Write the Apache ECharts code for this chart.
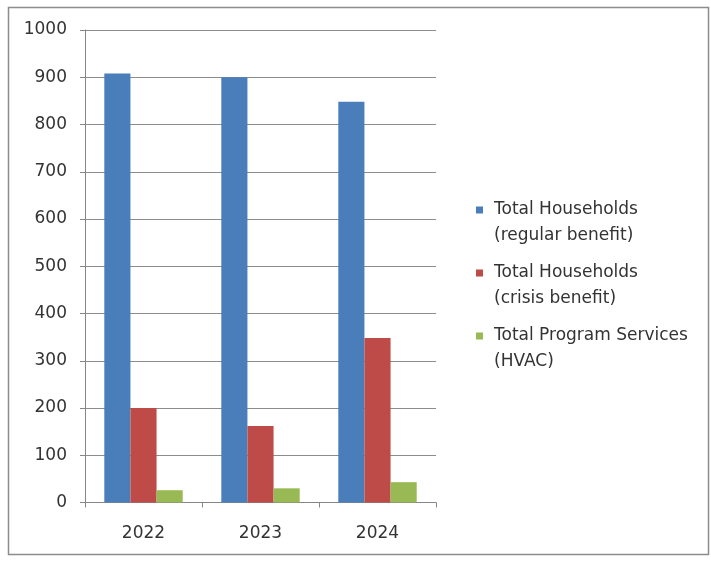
<!DOCTYPE html>
<html>
<head>
<meta charset="utf-8">
<script src="https://cdn.jsdelivr.net/npm/echarts@6/dist/echarts.min.js"></script>
<style>html,body{margin:0;padding:0;background:#fff}#c{width:711px;height:561px}</style>
</head>
<body>
<div id="c"></div>
<script>
const categories = ['2022', '2023', '2024'];
const seriesNames = ['Total Households\n(regular benefit)', 'Total Households\n(crisis benefit)', 'Total Program Services\n(HVAC)'];
const regularBenefit = [908, 900, 848];
const crisisBenefit = [200, 162, 348];
const hvacServices = [26, 30, 43];
const yTicks = [0, 100, 200, 300, 400, 500, 600, 700, 800, 900, 1000];

const colors = ['#4a7ebb', '#be4b48', '#98b954'];
const chart = echarts.init(document.getElementById('c'));
const values = [regularBenefit, crisisBenefit, hvacServices];
const icon = 'path://M0,0H7V7H0Z M13,33L13.01,33';
chart.setOption({
  animation: false,
  backgroundColor: '#ffffff',
  graphic: [{
    type: 'rect', z: -1,
    shape: { x: 8.5, y: 7.5, width: 700, height: 547 },
    style: { fill: 'none', stroke: '#8c8c8c', lineWidth: 1.5 }
  }],
  grid: { left: 85, right: 275, top: 30, bottom: 58.5 },
  legend: {
    orient: 'vertical', left: 471, top: 192,
    itemWidth: 13, itemHeight: 33, itemGap: 11,
    icon: icon,
    data: seriesNames,
    textStyle: { fontFamily: 'DejaVu Sans', fontSize: 17, color: '#333', lineHeight: 26 }
  },
  xAxis: {
    type: 'category', data: categories,
    axisLine: { lineStyle: { color: '#868686', width: 1 } },
    axisTick: { show: true, length: 5, lineStyle: { color: '#868686' } },
    axisLabel: { fontFamily: 'DejaVu Sans', fontSize: 17, color: '#333', margin: 23 }
  },
  yAxis: {
    type: 'value', min: yTicks[0], max: yTicks[yTicks.length - 1], interval: 100,
    axisLine: { show: true, lineStyle: { color: '#868686' } },
    axisTick: { show: true, length: 5, lineStyle: { color: '#868686' } },
    splitLine: { lineStyle: { color: '#8c8c8c', width: 1 } },
    axisLabel: { fontFamily: 'DejaVu Sans', fontSize: 17, color: '#333', margin: 18, formatter: v => String(v) }
  },
  series: seriesNames.map((n, i) => ({
    name: n, type: 'bar', data: values[i],
    barGap: '0%', barCategoryGap: '33%',
    itemStyle: { color: colors[i] }
  }))
});
</script>
</body>
</html>
